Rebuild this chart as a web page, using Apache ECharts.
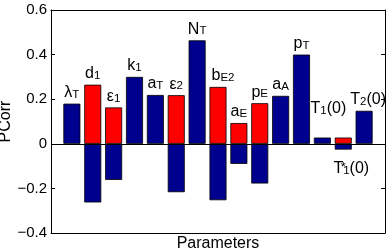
<!DOCTYPE html>
<html><head><meta charset="utf-8">
<script src="https://cdn.jsdelivr.net/npm/echarts@6/dist/echarts.min.js"></script>
<style>html,body{margin:0;padding:0;background:#fff}#c{width:392px;height:252px}</style>
</head><body><div id="c"></div>
<script>
// Parameter names (main glyph, subscript, tail)
var labelMain = ['λ','d','ε','k','a','ε','N','b','a','p','a','p','T','T','T'];
var labelSub  = ['T','1','1','1','T','2','T','E2','E','E','A','T','1','1','2'];
var labelTail = ['','','','','','','','','','','','','(0)','(0)','(0)'];
var labelSup  = ['','','','','','','','','','','','','','*',''];
// Positive partial correlations
var posValues = [0.18, 0.265, 0.163, 0.30, 0.219, 0.218, 0.464, 0.255, 0.093, 0.182, 0.215, 0.40, 0.028, 0.028, 0.148];
// Positive bar colour class: 0 = blue, 1 = red
var posRed = [0,1,1,0,0,1,0,1,1,1,0,0,0,1,0];
// Negative partial correlations (null = none)
var negValues = [null, -0.263, -0.162, null, null, -0.217, null, -0.253, -0.09, -0.178, null, null, null, -0.026, null];
var yTicks = [-0.4, -0.2, 0, 0.2, 0.4, 0.6];

var BLUE = '#00008F', RED = '#FF0000';
var FONT = 'Liberation Sans';
var richStyle = {
  m: {fontSize: 16, fontFamily: FONT, color: '#000', lineHeight: 16, verticalAlign: 'top'},
  s: {fontSize: 11.5, fontFamily: FONT, color: '#000', lineHeight: 10, padding: [11,0,0,0], verticalAlign: 'bottom'},
  sup: {fontSize: 13, fontFamily: FONT, color: '#000', lineHeight: 12, width: 0, align: 'left', verticalAlign: 'top'}
};
function labelText(i){
  var t = '{m|' + labelMain[i] + '}';
  if (labelSup[i]) t += '{sup|' + labelSup[i] + '}';
  t += '{s|' + labelSub[i] + '}';
  if (labelTail[i]) t += '{m|' + labelTail[i] + '}';
  return t;
}
var posOffsets = {7:[5,0], 12:[6,-18], 14:[4,0]};
var posData = posValues.map(function(v,i){
  var d = {value:[i+1, v], itemStyle:{color: posRed[i] ? RED : BLUE}};
  var lab = {show: true, formatter: labelText(i), position: 'top', distance: 3};
  if (posOffsets[i]) lab.offset = posOffsets[i];
  if (labelSup[i]) lab.show = false;
  d.label = lab;
  return d;
});
var negData = [];
negValues.forEach(function(v,i){
  if (v === null) return;
  var d = {value:[i+1, v]};
  if (labelSup[i]) d.label = {show: true, formatter: labelText(i), position: 'bottom', distance: 11, offset:[8,0], rich: richStyle};
  negData.push(d);
});

var chart = echarts.init(document.getElementById('c'), null, {renderer: 'canvas'});
chart.setOption({
  animation: false,
  grid: {left: 51, right: 7, top: 10, bottom: 19, containLabel: false, outerBoundsMode: 'none'},
  xAxis: [
    {type: 'value', min: 0, max: 16, position: 'bottom',
     axisLine: {show: true, onZero: false, lineStyle: {color: '#000', width: 1}},
     axisTick: {show: false}, axisLabel: {show: false}, splitLine: {show: false},
     name: 'Parameters', nameLocation: 'middle', nameGap: 3, nameMoveOverlap: false,
     nameTextStyle: {fontSize: 16, fontFamily: FONT, color: '#000', verticalAlign: 'top'}},
    {type: 'value', min: 0, max: 16, position: 'top',
     axisLine: {show: true, onZero: false, lineStyle: {color: '#000', width: 1}},
     axisTick: {show: false}, axisLabel: {show: false}, splitLine: {show: false}}
  ],
  yAxis: [
    {type: 'value', min: yTicks[0], max: yTicks[yTicks.length-1], interval: 0.2, position: 'left',
     axisLine: {show: true, onZero: false, lineStyle: {color: '#000', width: 1}},
     axisTick: {show: true, inside: true, length: 4, lineStyle: {color: '#000'}},
     axisLabel: {fontSize: 15, fontFamily: FONT, color: '#000', margin: 4,
       formatter: function(v){ var s = (Math.round(v*10)/10).toString(); if (s==='0') return '0'; return s.replace('-', '\u2212'); }},
     splitLine: {show: false},
     name: 'PCorr', nameLocation: 'middle', nameGap: 37, nameMoveOverlap: false,
     nameTextStyle: {fontSize: 16, fontFamily: FONT, color: '#000'}},
    {type: 'value', min: yTicks[0], max: yTicks[yTicks.length-1], interval: 0.2, position: 'right',
     axisLine: {show: true, onZero: false, lineStyle: {color: '#000', width: 1}},
     axisTick: {show: true, inside: true, length: 4, lineStyle: {color: '#000'}},
     axisLabel: {show: false}, splitLine: {show: false}}
  ],
  series: [
    {type: 'bar', name: 'pos', data: posData, barWidth: 17, barGap: '-100%',
     itemStyle: {borderColor: '#000', borderWidth: 0.8},
     label: {rich: richStyle},
     markLine: {silent: true, symbol: 'none', label: {show: false},
       lineStyle: {color: '#000', width: 1, type: 'solid'}, data: [{yAxis: 0}]}},
    {type: 'bar', name: 'neg', data: negData, barWidth: 17, barGap: '-100%',
     itemStyle: {color: BLUE, borderColor: '#000', borderWidth: 0.8},
     label: {rich: richStyle}}
  ]
});
</script></body></html>
